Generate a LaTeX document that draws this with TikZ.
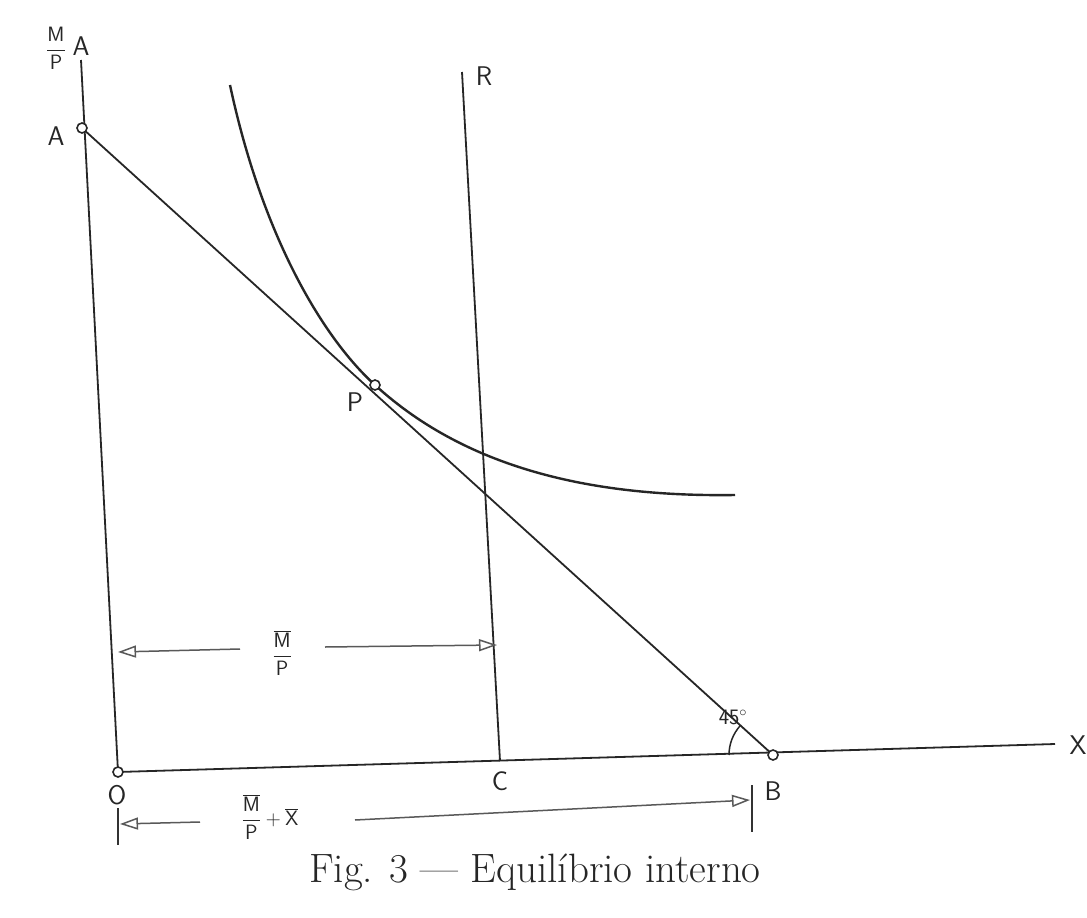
\documentclass[tikz,border=0pt]{standalone}
\usetikzlibrary{arrows.meta,calc}
\begin{document}
\begin{tikzpicture}[x=1pt,y=-1pt,
  ink/.style={draw=black!85, line width=1.8pt},
  dimline/.style={draw=black!65, line width=1.5pt, -{Triangle[open,length=18pt,width=12pt]}},
  endtick/.style={draw=black!80, line width=1.7pt},
  dot/.style={circle, draw=black!85, fill=white, inner sep=0pt, minimum size=10pt, line width=1.6pt},
  lbl/.style={font=\sffamily\fontsize{27}{30}\selectfont, text=black!85, inner sep=1pt},
  captext/.style={font=\fontsize{41}{46}\selectfont, text=black!85}]
\useasboundingbox (0,0) rectangle (1087,918);
\fill[white] (0,0) rectangle (1087,918);
% key points
\coordinate (Otop) at (81,60);
\coordinate (Xend) at (1055,744);
\coordinate (C) at (500,761);
\coordinate (Rtop) at (462,72);
\coordinate (Cs) at (230,85);
\coordinate (Ce) at (735,495);
% axes
\draw[ink] (118,772) -- (Otop);
\draw[ink] (118,772) -- (Xend);
\draw[ink] (Rtop) -- (C);
\draw[ink] (82,128) -- (773,755);
% curve
\draw[ink, line width=2.4pt] (Cs) .. controls (262,235) and (322,337) .. (375,385)
      .. controls (470,472) and (600,497) .. (Ce);
% points
\node[dot] (O) at (118,772) {};
\node[dot] (A) at (82,128) {};
\node[dot] (B) at (773,755) {};
\node[dot] (P) at (375,385) {};
% labels
\node[lbl, font=\sffamily\fontsize{22}{24}\selectfont] (Mlab) at (56,48) {$\displaystyle\frac{\mathsf{M}}{\mathsf{P}}$};
\node[lbl] (Atop) at (81,46) {A};
\node[lbl] (Alab) at (56,136) {A};
\node[lbl] (Rlab) at (484,76) {R};
\node[lbl] (Plab) at (355,402) {P};
\node[lbl] (Olab) at (117,795) {O};
\node[lbl] (Clab) at (500,781) {C};
\node[lbl] (Blab) at (773,791) {B};
\node[lbl] (Xlab) at (1078,745) {X};
\node[lbl, font=\sffamily\fontsize{22}{24}\selectfont] (ang) at (733,717) {45$^{\circ}$};
\draw[ink, line width=1.5pt] ($(B)+(-44,0)$) arc[start angle=180, end angle=222, radius=44];
% dimension M/P
\node[lbl, font=\sffamily\fontsize{22}{24}\selectfont] (d1) at (282,653) {$\displaystyle\frac{\overline{\mathsf{M}}}{\mathsf{P}}$};
\coordinate (d1L) at (118,652);
\coordinate (d1R) at (497,645);
\draw[dimline] (240,649) -- (d1L);
\draw[dimline] (325,647) -- (d1R);
% dimension M/P + X
\coordinate (t1a) at (118,808);
\coordinate (t1b) at (118,845);
\coordinate (t2a) at (752,785);
\coordinate (t2b) at (752,832);
\draw[endtick] (t1a) -- (t1b);
\draw[endtick] (t2a) -- (t2b);
\node[lbl, font=\sffamily\fontsize{22}{24}\selectfont] (d2) at (270,817) {$\displaystyle\frac{\overline{\mathsf{M}}}{\mathsf{P}} + \overline{\mathsf{X}}$};
\draw[dimline] (200,822) -- (120,824);
\draw[dimline] (355,820) -- (750,800);
% caption
\node[captext] (caption) at (535,872) {Fig. 3 --- Equilíbrio interno};
\end{tikzpicture}
\end{document}
